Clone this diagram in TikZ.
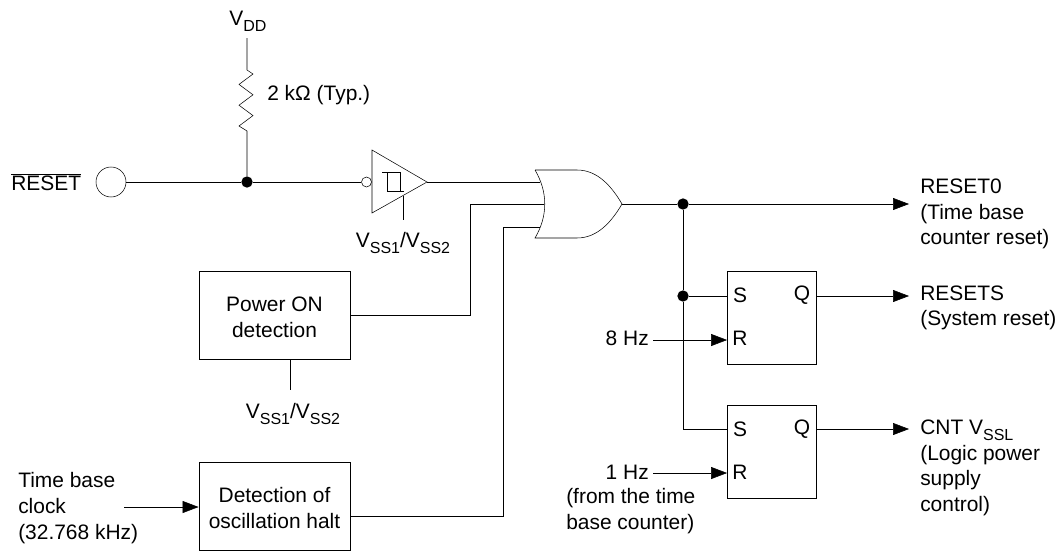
\documentclass[tikz,border=0pt]{standalone}
\usepackage{fontspec}
\setmainfont{Liberation Sans}
\usetikzlibrary{positioning,arrows.meta}
\tikzset{
>={Triangle[length=12pt,width=9pt]},
line width=0.9pt,
every node/.style={font=\fontsize{15.7}{19.2}\selectfont},
blockbox/.style={draw, minimum width=113.5pt, minimum height=66pt, align=center, text height=33pt},
ffbox/.style={draw, minimum width=67pt, minimum height=70pt},
dot/.style={circle, fill, inner sep=0pt, minimum size=8.5pt},
pin/.style={inner sep=0pt},
lbl/.style={inner sep=0pt, align=left, anchor=west},
}
\newcommand{\sub}[1]{\raisebox{-0.28em}{\fontsize{12}{12}\selectfont #1}}

\begin{document}
\begin{tikzpicture}[x=0.75pt, y=-0.75pt]
        \useasboundingbox (0,0) rectangle (1063,550);

        % reset input
        \node[lbl] (resetlbl) at (11,182) {$\overline{\mbox{RESET}}$};
        \node[circle, draw, minimum size=22.5pt, inner sep=0pt] (pad) at (111,182) {};
        \node[dot] (j0) at (247,182) {};
        \node[inner sep=0pt] (vdd) at (248,21) {V\sub{DD}};
        \coordinate (r1) at (247,70);
        \coordinate (r2) at (247,131);
        \node[lbl] (rlbl) at (267,95) {2 kΩ (Typ.)};
        \draw (247,38) -- (r1) -- (253,74) -- (239,84.4) -- (253,94.8) -- (239,105.2) -- (253,115.6) -- (239,126) -- (r2) -- (j0);

        % schmitt buffer
        \coordinate (bt) at (372,150);
        \coordinate (bb) at (372,213);
        \node[pin] (bo) at (427,182) {};
        \node[circle, draw, minimum size=7.5pt, inner sep=0pt] (bubble) at (366.5,182) {};
        \draw (bt) -- (bb) -- (bo.center) -- cycle;
        \draw (382,172) -- (400,172) -- (400,191);
        \draw (404,191) -- (387,191) -- (387,172);
        \draw (pad) -- (j0) -- (bubble);
        \coordinate (bs) at (403.5,196);
        \node[inner sep=0pt] (vss1) at (403,243) {V\sub{SS1}/V\sub{SS2}};
        \draw (bs) -- (403.5,220);

        % or gate
        \coordinate (ga) at (535,170);
        \coordinate (gb) at (535,238);
        \coordinate (gi1) at (540,182);
        \coordinate (gi2) at (544,204);
        \coordinate (gi3) at (540,227);
        \node[pin] (go) at (622,204) {};
        \draw (ga) -- (577,170) .. controls (598,170) and (612,187) .. (go.center)
          .. controls (612,221) and (598,238) .. (577,238) -- (gb)
          .. controls (548,216) and (548,192) .. (ga);
        \draw (bo.center) -- (gi1);

        % power on block
        \node[blockbox] (por) at (274.5,315.5) {Power ON\\detection};
        \node[inner sep=0pt] (vss2) at (293,414) {V\sub{SS1}/V\sub{SS2}};
        \draw (por.south -| 290,0) -- (290,390);
        \draw (por) -- (470,315.5) |- (gi2);

        % oscillation block
        \node[blockbox] (osc) at (274.5,506.5) {Detection of\\oscillation halt};
        \node[lbl] (clk) at (18,508) {Time base\\clock\\(32.768 kHz)};
        \draw[->] (124,507) -- (osc.west |- 0,507);
        \draw (osc.east |- 0,516) -- (503,516) |- (gi3);

        % flip flops
        \node[ffbox] (ff1) at (772,317.5) {};
        \node[ffbox] (ff2) at (772,451.5) {};
        \node[pin] (s1) at (740,295) {S};
        \node[pin] (r1t) at (740,338) {R};
        \node[pin] (q1) at (802,295) {Q};
        \node[pin] (s2) at (740,429) {S};
        \node[pin] (r2t) at (740,472) {R};
        \node[pin] (q2) at (802,429) {Q};

        \node[dot] (j1) at (683,204) {};
        \node[dot] (j2) at (683,296) {};
        \coordinate (rs) at (909,204);
        \coordinate (qs1) at (909,296);
        \coordinate (qs2) at (909,429);
        \draw (go.center) -- (j1);
        \draw[->] (j1) -- (rs);
        \draw (j1) -- (j2) -- (683,429) -- (ff2.west |- qs2);
        \draw (j2) -- (ff1.west |- qs1);
        \draw[->] (ff1.east |- qs1) -- (qs1);
        \draw[->] (ff2.east |- qs2) -- (qs2);

        \node[lbl] (out0) at (920,214) {RESET0\\(Time base\\counter reset)};
        \node[lbl] (out1) at (920,308) {RESETS\\(System reset)};
        \node[lbl] (out2) at (920,468) {CNT V\sub{SSL}\\(Logic power\\supply\\control)};

        \node[inner sep=0pt, anchor=east] (hz8) at (649,338) {8 Hz};
        \node[inner sep=0pt, anchor=east] (hz1) at (649,472) {1 Hz};
        \node[lbl] (from) at (566,511) {(from the time\\base counter)};
        \draw[->, shorten <=3pt] (hz8.east |- 0,340) -- (ff1.west |- 0,340);
        \draw[->, shorten <=3pt] (hz1.east |- 0,473) -- (ff2.west |- 0,473);
\end{tikzpicture}
\end{document}
